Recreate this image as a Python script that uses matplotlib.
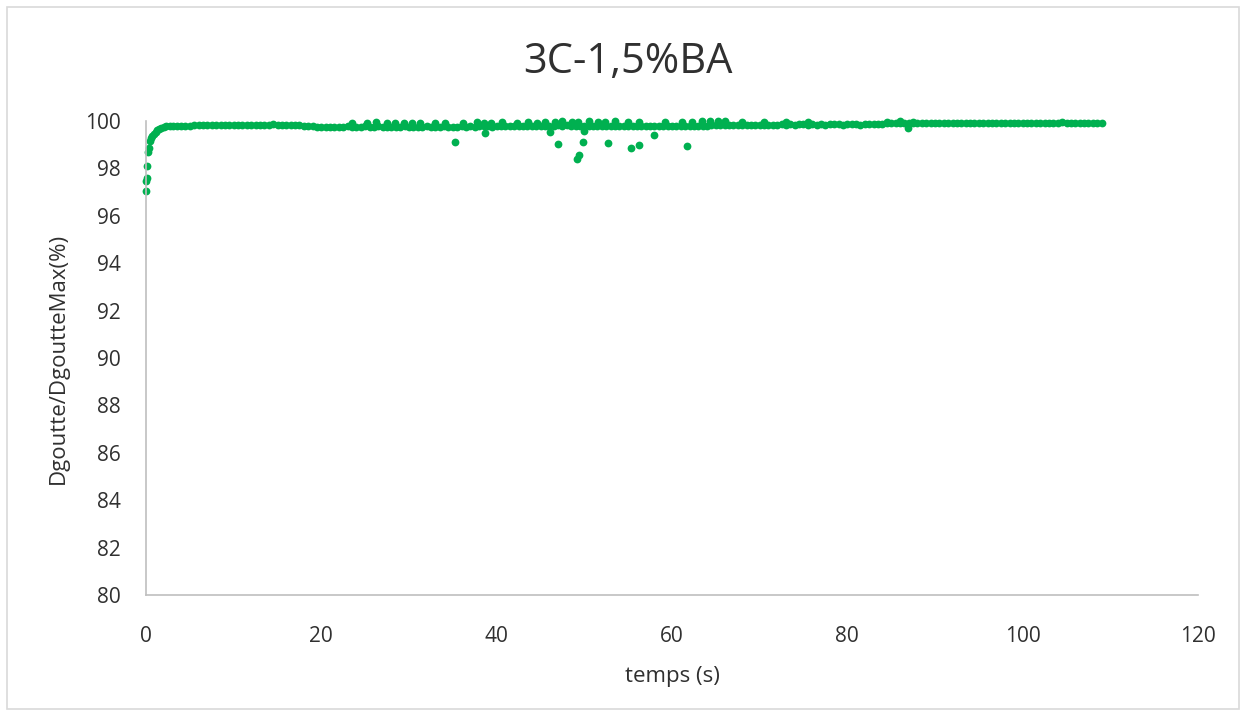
import numpy as np
import matplotlib.pyplot as plt
from matplotlib.patches import Rectangle

# start of the measurement: fast rise of the drop diameter
rise_t = [0.0, 0.02, 0.06, 0.15, 0.25, 0.35, 0.45, 0.55, 0.7, 0.9, 1.1, 1.3, 1.5, 1.7,
          2.0, 2.3, 2.7, 3.1]
rise_v = [97.05, 97.45, 97.6, 98.1, 98.7, 98.85, 99.15, 99.3, 99.37, 99.45, 99.52, 99.6,
          99.66, 99.7, 99.74, 99.77, 99.78, 99.79]

# main band, one value every 0.5 s from 3.5 s to 109 s
band_t = np.arange(3.5, 109.01, 0.5)
band_v = [
    99.80, 99.80, 99.81, 99.81, 99.82, 99.82, 99.82, 99.83, 99.83, 99.83,
    99.83, 99.84, 99.84, 99.84, 99.84, 99.85, 99.85, 99.85, 99.85, 99.85,
    99.85, 99.85, 99.86, 99.85, 99.85, 99.84, 99.84, 99.83, 99.82, 99.80,
    99.78, 99.77, 99.76, 99.76, 99.75, 99.75, 99.76, 99.75, 99.76, 99.77,
    99.76, 99.76, 99.75, 99.77, 99.74, 99.76, 99.77, 99.75, 99.74, 99.76,
    99.76, 99.74, 99.77, 99.75, 99.74, 99.76, 99.75, 99.77, 99.74, 99.76,
    99.75, 99.77, 99.74, 99.76, 99.76, 99.78, 99.75, 99.77, 99.76, 99.78,
    99.78, 99.79, 99.76, 99.78, 99.78, 99.80, 99.77, 99.78, 99.80, 99.79,
    99.80, 99.81, 99.79, 99.78, 99.80, 99.80, 99.79, 99.82, 99.78, 99.82,
    99.80, 99.80, 99.78, 99.81, 99.80, 99.79, 99.79, 99.80, 99.81, 99.78,
    99.80, 99.79, 99.78, 99.80, 99.79, 99.81, 99.78, 99.80, 99.79, 99.80,
    99.78, 99.79, 99.80, 99.78, 99.79, 99.81, 99.80, 99.79, 99.81, 99.80,
    99.81, 99.81, 99.82, 99.82, 99.83, 99.82, 99.83, 99.84, 99.82, 99.84,
    99.84, 99.84, 99.85, 99.84, 99.85, 99.85, 99.84, 99.85, 99.86, 99.85,
    99.86, 99.85, 99.86, 99.86, 99.85, 99.86, 99.85, 99.86, 99.85, 99.86,
    99.87, 99.86, 99.85, 99.86, 99.87, 99.86, 99.85, 99.86, 99.87, 99.86,
    99.88, 99.89, 99.90, 99.91, 99.92, 99.93, 99.93, 99.92, 99.93, 99.93,
    99.93, 99.93, 99.92, 99.93, 99.93, 99.93, 99.92, 99.93, 99.93, 99.93,
    99.93, 99.92, 99.93, 99.93, 99.93, 99.93, 99.92, 99.93, 99.93, 99.93,
    99.93, 99.93, 99.93, 99.92, 99.93, 99.93, 99.93, 99.93, 99.92, 99.93,
    99.93, 99.93, 99.94, 99.93, 99.93, 99.92, 99.93, 99.93, 99.93, 99.93,
    99.92, 99.93,
]

# points scattered just above the band
upper_t = [23.5, 25.2, 26.2, 27.5, 28.4, 29.4, 30.3, 31.3, 33.0, 34.1, 36.2, 37.7, 38.5,
           39.4, 40.6, 42.3, 43.6, 44.6, 45.5, 46.7, 47.4, 48.6, 49.3, 50.5, 51.6, 52.4,
           53.5, 55.0, 56.2, 59.2, 61.1, 62.3, 63.4, 64.3, 65.3, 66.0, 68.0, 70.5, 73.0,
           75.5, 84.5, 86.0, 87.5]
upper_v = [99.92, 99.93, 99.94, 99.92, 99.93, 99.92, 99.91, 99.92, 99.93, 99.92, 99.93,
           99.94, 99.92, 99.93, 99.94, 99.92, 99.95, 99.93, 99.97, 99.96, 99.98, 99.96,
           99.97, 99.98, 99.96, 99.97, 99.98, 99.96, 99.97, 99.95, 99.96, 99.97, 99.98,
           99.99, 100.0, 99.98, 99.95, 99.94, 99.95, 99.94, 99.97, 99.98, 99.97]

# isolated low points
low_t = [35.3, 38.7, 46.1, 47.0, 49.2, 49.4, 49.85, 50.0, 52.7, 55.3, 56.2, 58.0, 61.7, 86.9]
low_v = [99.13, 99.49, 99.54, 99.03, 98.38, 98.57, 99.13, 99.59, 99.06, 98.85, 98.99,
         99.40, 98.93, 99.72]

t = np.concatenate([rise_t, band_t, upper_t, low_t])
v = np.concatenate([rise_v, band_v, upper_v, low_v])

plt.rcParams['font.family'] = ['Open Sans', 'DejaVu Sans']
text_color = '#303030'

fig = plt.figure(figsize=(12.45, 7.15), dpi=100)
ax = fig.add_axes([146 / 1245, 1 - 595 / 715, (1198 - 146) / 1245, (595 - 121) / 715])

ax.plot(t, v, 'o', color='#00B050', markersize=5.6, markeredgewidth=0, clip_on=False)

ax.set_xlim(0, 120)
ax.set_ylim(80, 100)
ax.set_xticks(range(0, 121, 20))
ax.set_yticks(range(80, 101, 2))
ax.tick_params(length=0, labelsize=15, colors=text_color)
ax.tick_params(axis='y', pad=18)
ax.tick_params(axis='x', pad=22)

for side in ['top', 'right']:
    ax.spines[side].set_visible(False)
for side in ['left', 'bottom']:
    ax.spines[side].set_color('#bfbfbf')
    ax.spines[side].set_linewidth(1.2)

ax.set_xlabel('temps (s)', fontsize=16, color=text_color, labelpad=14)
ax.set_ylabel('Dgoutte/DgoutteMax(%)', fontsize=16, color=text_color, labelpad=12)
fig.text(628 / 1245, 1 - 62 / 715, '3C-1,5%BA', fontsize=30, color=text_color,
         ha='center', va='center')

# light frame around the whole chart
fig.patches.append(Rectangle((7 / 1245, 6 / 715), 1232 / 1245, 702 / 715,
                             transform=fig.transFigure, fill=False,
                             edgecolor='#d9d9d9', linewidth=1.2))

fig.savefig('out.png', dpi=100)
